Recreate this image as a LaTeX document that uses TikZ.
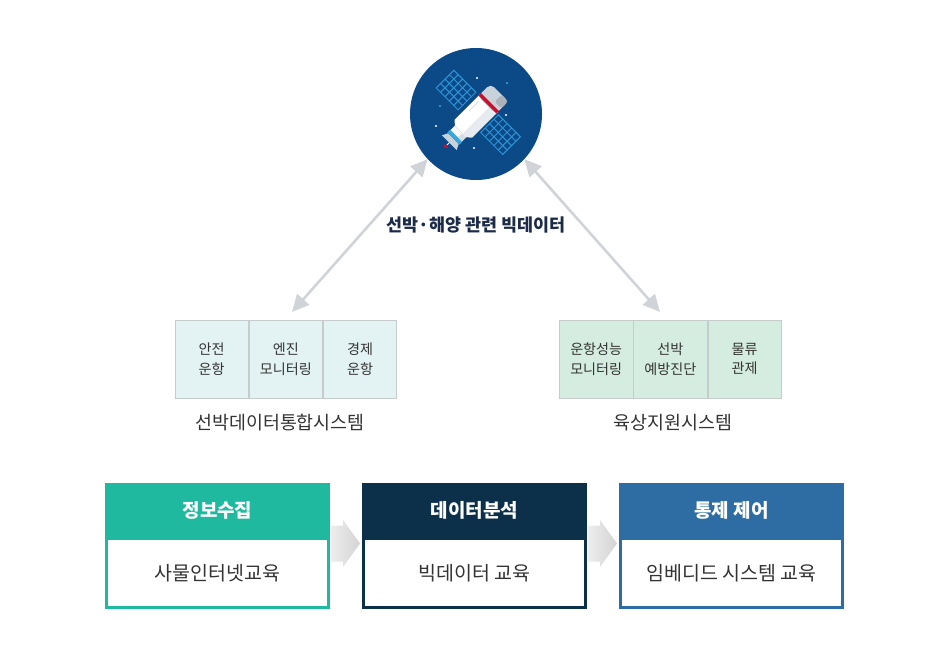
\documentclass[tikz,border=0pt]{standalone}
\usepackage{fontspec}
\setmainfont{Noto Sans CJK KR}
\usetikzlibrary{arrows.meta}
\definecolor{circnavy}{HTML}{0B4A87}
\definecolor{panelblue}{HTML}{2E93D6}
\definecolor{arrowgray}{HTML}{D0D3D8}
\definecolor{cellcyan}{HTML}{E3F3F3}
\definecolor{cellgreen}{HTML}{D5EDE0}
\definecolor{cellline}{HTML}{C6CBCB}
\definecolor{txtdark}{HTML}{333333}
\definecolor{titlenavy}{HTML}{1B2B48}
\definecolor{hteal}{HTML}{1FB99F}
\definecolor{hnavy}{HTML}{0C3049}
\definecolor{hblue}{HTML}{2E6DA4}
\definecolor{capgray}{HTML}{C9D1DA}
\definecolor{bandred}{HTML}{C8102E}
\definecolor{bandblue}{HTML}{3AA6DE}
\tikzset{
  biarrow/.style={draw=arrowgray, line width=2.6pt, {Triangle[length=17pt,width=16pt]}-{Triangle[length=17pt,width=16pt]}},
  cell/.style={draw=cellline, line width=0.8pt, minimum width=73.4pt, minimum height=78pt, inner sep=0pt, align=center, text=txtdark, font=\fontsize{14.1}{19.5}\selectfont},
  syslabel/.style={text=txtdark, font=\fontsize{18.4}{21}\selectfont},
  hdr/.style={minimum width=225pt, minimum height=54pt, inner sep=0pt, text=white, font=\fontsize{19}{21}\selectfont\bfseries},
  bodybox/.style={fill=white, line width=3pt, minimum width=222pt, minimum height=69pt, inner sep=0pt, text=txtdark, font=\fontsize{19.5}{21}\selectfont},
  chev/.style={left color=black!7, right color=black!17},
  panelline/.style={draw=panelblue, line width=1pt},
  star/.style={fill=white}
}
\begin{document}
\begin{tikzpicture}[x=1pt, y=-1pt]
\useasboundingbox (0,0) rectangle (945,651);

% satellite circle
\node[circle, fill=circnavy, minimum size=132pt, inner sep=0pt] (sat) at (476,114) {};

% stars
\fill[star] (477,78) circle (1.1);
\fill[bandblue] (507,83) circle (1.1);
\fill[bandblue] (440,106) circle (1.1);
\fill[star] (436,126) circle (1.1);
\fill[star] (474,148) circle (1.1);
\fill[star] (506,115) circle (1.1);

% satellite drawing
\begin{scope}[shift={(474,118)}, rotate=45]
  % panels
  \foreach \ya/\yb in {-48/-17, 15/46}{
    \draw[panelline] (-5.5,\ya) rectangle (19.5,\yb);
    \foreach \i in {1,2,3}{
      \draw[panelline] ({-5.5+6.25*\i},\ya) -- ({-5.5+6.25*\i},\yb);
    }
    \foreach \j in {1,2,3,4}{
      \draw[panelline] (-5.5,{\ya+6.2*\j}) -- (19.5,{\ya+6.2*\j});
    }
  }
  % antenna
  \draw[white, line width=0.8pt] (-34,0) -- (-40,0);
  \fill[bandred] (-40,0) circle (2);
  % nozzle
  \fill[capgray] (-29,-7.5) -- (-35,-10.5) -- (-35,10.5) -- (-29,7.5) -- cycle;
  % blue band
  \fill[bandblue] (-29,-8.5) rectangle (-25,8.5);
  % neck
  \fill[white!94!gray] (-25,-8) rectangle (-19,8);
  \fill[capgray!75] (-25,2.5) rectangle (-19,8);
  % shoulder and main body
  \fill[white] (-19,-8) -- (-15,-12.5) -- (21,-12.5) -- (21,12.5) -- (-15,12.5) -- (-19,8) -- cycle;
  \fill[capgray!45] (-19,3) -- (21,3) -- (21,12.5) -- (-15,12.5) -- (-19,8) -- cycle;
  \draw[capgray, line width=0.6pt] (2,-8.5) -- (15,-8.5);
  % cap
  \fill[capgray, rounded corners=5pt] (18,-12.5) rectangle (36,12.5);
  \fill[capgray!85!black, rounded corners=3pt] (26,3) rectangle (36,12.5);
  \fill[bandred] (19,-12.5) rectangle (22.5,12.5);
\end{scope}

% title
\node[text=titlenavy, font=\fontsize{17.4}{20}\selectfont\bfseries] (title) at (476,225) {선박·해양 관련 빅데이터};

% left system
\node[cell, fill=cellcyan] (l1) at (211.7,359) {안전\\운항};
\node[cell, fill=cellcyan, anchor=west] (l2) at (l1.east) {엔진\\모니터링};
\node[cell, fill=cellcyan, anchor=west] (l3) at (l2.east) {경제\\운항};
\node[syslabel] (llab) at (280,423) {선박데이터통합시스템};

% right system
\node[cell, fill=cellgreen] (r1) at (596.2,359) {운항성능\\모니터링};
\node[cell, fill=cellgreen, anchor=west] (r2) at (r1.east) {선박\\예방진단};
\node[cell, fill=cellgreen, anchor=west] (r3) at (r2.east) {물류\\관제};
\node[syslabel] (rlab) at (673,423) {육상지원시스템};

% bidirectional arrows
\coordinate (lend) at (292,312);
\coordinate (rend) at (660,312);
\draw[biarrow] (lend) -- (sat.223);
\draw[biarrow] (sat.317) -- (rend);

% bottom boxes
\node[hdr, fill=hteal] (h1) at (217.5,510) {정보수집};
\node[bodybox, draw=hteal] (b1) at (217.5,573) {사물인터넷교육};
\node[hdr, fill=hnavy] (h2) at (474.5,510) {데이터분석};
\node[bodybox, draw=hnavy] (b2) at (474.5,573) {빅데이터 교육};
\node[hdr, fill=hblue] (h3) at (731.5,510) {통제 제어};
\node[bodybox, draw=hblue] (b3) at (731.5,573) {임베디드 시스템 교육};

% chevrons
\foreach \x in {331,588}{
  \shade[chev] (\x,525.5) -- (\x+12,525.5) -- (\x+12,520) -- (\x+29,543.5) -- (\x+12,567) -- (\x+12,561.5) -- (\x,561.5) -- cycle;
}
\end{tikzpicture}
\end{document}
